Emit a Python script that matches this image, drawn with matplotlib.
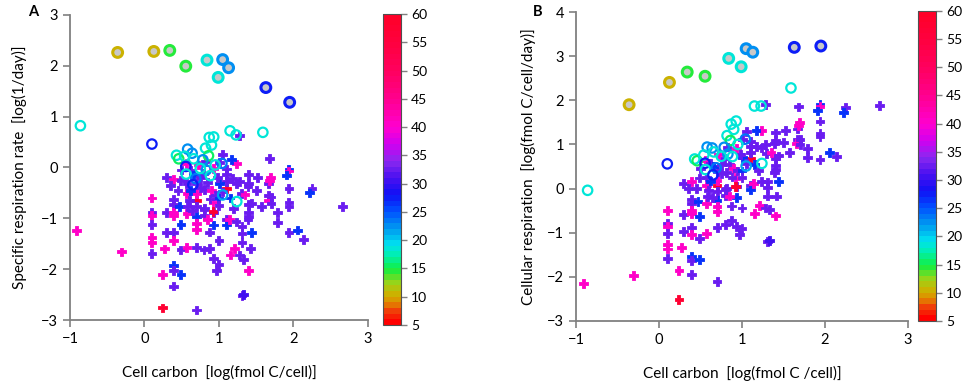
import numpy as np
import matplotlib
matplotlib.use("Agg")
import matplotlib.pyplot as plt
from matplotlib.colors import LinearSegmentedColormap

plt.rcParams['font.family'] = ['Lato', 'DejaVu Sans']

# ---- data (log10 units, temperature in deg C) ----
# cross markers: cell carbon, specific respiration rate, temperature
cross_carbon = [
    -0.91, -0.31, 0.10, 0.10, 0.10, 0.10, 0.10, 0.10, 0.10, 0.24,
    0.24, 0.27, 0.30, 0.30, 0.30, 0.39, 0.39, 0.39, 0.39, 0.39,
    0.39, 0.39, 0.39, 0.39, 0.39, 0.49, 0.49, 0.49, 0.47, 0.49,
    0.57, 0.57, 0.57, 0.57, 0.58, 0.70, 0.70, 0.70, 0.70, 0.70,
    0.70, 0.70, 0.70, 0.70, 0.80, 0.80, 0.80, 0.87, 0.875, 0.92,
    0.93, 0.93, 0.93, 0.97, 1.00, 1.00, 1.10, 1.10, 1.10, 1.10,
    1.10, 1.14, 1.21, 1.15, 1.31, 1.31, 1.31, 1.28, 1.33, 1.40,
    1.31, 1.33, 1.42, 1.44, 1.40, 1.40, 1.40, 1.40, 1.40, 1.23,
    1.30, 1.35, 1.57, 1.67, 1.69, 1.67, 1.66, 1.79, 1.79, 1.94,
    1.94, 1.94, 1.94, 2.05, 2.14, 2.25, 2.22, 2.66, 1.94, 1.94,
    1.91, 1.68, 1.28, 1.24, 1.01, 1.10, 0.93, 0.56, 0.79, 0.81,
    0.81, 1.01, 1.28, 1.39, 1.44, 1.23, 1.39, 0.92, 0.62, 0.66,
    0.75, 0.85, 0.90, 0.95, 1.00, 1.05, 0.75, 0.62, 0.98, 1.18,
    0.88, 1.15, 1.20, 0.50, 1.05, 1.17, 0.72, 0.60, 0.65, 1.00,
    0.85, 1.68, 1.70, 1.70, 0.35, 0.45, 1.50, 1.52, 0.82,
]
cross_spec = [
    -1.24, -1.66, -0.60, -0.89, -0.95, -1.12, -1.37, -1.47, -1.69, -2.10,
    -2.76, -1.60, -0.19, -0.89, -1.28, -0.23, -0.63, -0.72, -0.89, -0.95,
    -1.28, -1.44, -1.92, -2.02, -2.33, -2.10, -1.62, -1.12, -0.76, -0.25,
    -0.51, -0.31, -0.90, -1.58, -0.77, -0.64, -0.51, -0.77, -0.97, -1.10,
    -1.22, -1.58, -2.80, -0.31, -0.82, -0.95, -1.62, -1.59, -1.27, -0.69,
    -0.89, -1.13, -1.79, -2.02, -1.44, -1.90, -1.03, -1.13, -0.41, -0.28,
    -0.14, -1.03, -1.59, -1.72, -1.16, -1.29, -1.48, -1.72, -1.81, -2.02,
    -2.51, -2.50, -1.59, -1.28, -0.97, -0.88, -0.72, -0.31, -0.14, -0.31,
    -0.51, -0.54, -0.76, -0.32, -0.19, -0.55, -0.64, -0.89, -1.08, -0.41,
    -0.69, -0.76, -1.28, -1.23, -1.41, -0.41, -0.50, -0.77, -0.04, -0.07,
    -0.15, 0.17, 0.62, 0.07, 0.10, -0.03, -0.02, 0.08, -0.11, -0.44,
    -0.80, -0.31, -0.28, -0.37, -0.70, -1.07, -1.03, -0.87, -0.05, -0.15,
    -0.20, -0.30, -0.45, -0.55, -0.60, -0.48, -0.40, -0.45, -0.20, -0.22,
    -0.62, -0.60, -0.80, -0.05, 0.25, 0.15, 0.05, -0.65, -0.85, -0.75,
    -1.02, -0.25, -0.58, -0.71, -0.35, -0.45, -0.45, -0.20, 0.12,
]
cross_temp = [
    40, 40, 40, 32, 40, 32, 40, 40, 32, 40,
    57, 40, 32, 32, 32, 40, 32, 32, 40, 40,
    32, 40, 26, 32, 32, 26, 32, 26, 26, 32,
    40, 32, 40, 40, 32, 57, 40, 32, 26, 40,
    40, 32, 32, 32, 32, 32, 32, 32, 32, 40,
    32, 26, 32, 32, 32, 32, 32, 26, 57, 32,
    32, 40, 40, 40, 32, 32, 32, 32, 32, 40,
    32, 30, 32, 26, 32, 32, 32, 32, 32, 32,
    32, 40, 32, 32, 40, 32, 40, 32, 32, 32,
    32, 32, 32, 26, 32, 32, 26, 32, 26, 40,
    26, 32, 32, 40, 32, 32, 40, 40, 32, 32,
    32, 26, 32, 32, 32, 32, 32, 57, 32, 26,
    32, 32, 40, 32, 26, 32, 32, 26, 32, 32,
    32, 26, 32, 32, 32, 26, 40, 32, 32, 32,
    40, 40, 32, 32, 32, 32, 32, 32, 32,
]

# open circles
open_carbon = [
    -0.86, 0.10, 1.15, 1.23, 1.59, 0.87, 0.93, 0.90, 0.82, 0.86,
    0.58, 0.64, 0.43, 0.46, 0.54, 0.66, 0.785, 0.555, 0.83, 1.04,
    0.56, 0.885, 0.69, 1.05, 1.24, 0.65, 0.75, 0.95,
]
open_spec = [
    0.82, 0.46, 0.72, 0.64, 0.69, 0.59, 0.60, 0.44, 0.38, 0.23,
    0.36, 0.28, 0.24, 0.17, 0.22, 0.17, 0.15, 0.02, -0.05, 0.08,
    -0.13, -0.16, -0.22, -0.54, -0.67, -0.34, -0.02, 0.05,
]
open_temp = [
    19, 27, 19, 19, 19, 19, 19, 19, 19, 15,
    22, 22, 19, 15, 19, 19, 22, 27, 22, 23,
    19, 19, 23, 21, 19, 27, 19, 19,
]

# grey-filled circles
grey_carbon = [-0.36, 0.126, 0.34, 0.555, 0.84, 1.05, 1.13, 0.99, 1.63, 1.95]
grey_spec = [2.26, 2.28, 2.30, 1.99, 2.11, 2.12, 1.96, 1.77, 1.57, 1.28]
grey_temp = [10, 10, 14.5, 14.5, 19, 22, 22, 19, 27, 27]

cbar_ticks = list(range(5, 61, 5))

# colour ramp of the colour bar
anchors = [
    (5, '#ff0000'), (7, '#f03c08'), (8.5, '#e08a00'), (10, '#cdb000'),
    (12, '#9cd418'), (14.5, '#12ee40'), (17, '#00f0b0'), (19, '#00e0f0'),
    (22, '#0096f0'), (25, '#0050ff'), (28, '#1010f5'), (31, '#4a10f0'),
    (34, '#8a28f0'), (37, '#d000f0'), (40, '#ff00d0'), (45, '#ff0090'),
    (50, '#ff0060'), (55, '#ff0040'), (60, '#ff0028'),
]
cmap = LinearSegmentedColormap.from_list(
    'temp', [((v - 5) / 55, c) for v, c in anchors], N=55)
vmin, vmax = 5, 60


def style_axes(ax):
    for s in ('top', 'right'):
        ax.spines[s].set_visible(False)
    for s in ('left', 'bottom'):
        ax.spines[s].set_color('#808080')
        ax.spines[s].set_linewidth(1.3)
    ax.tick_params(direction='out', length=5, width=1.2, color='#808080',
                   labelsize=10.5, labelcolor='black')


def draw_panel(ax, cax, ys_cross, ys_open, ys_grey):
    cross_cols = cmap((np.array(cross_temp) - vmin) / (vmax - vmin))
    sc = ax.scatter(cross_carbon, ys_cross, c=cross_temp, cmap=cmap,
                    vmin=vmin, vmax=vmax, marker='P', s=40,
                    edgecolors=cross_cols, linewidths=0.6, zorder=2)
    ax.scatter(open_carbon, ys_open, facecolors='none',
               edgecolors=cmap((np.array(open_temp) - vmin) / (vmax - vmin)),
               marker='o', s=46, linewidths=1.6, zorder=3)
    ax.scatter(grey_carbon, ys_grey, facecolors='#c8c8c8',
               edgecolors=cmap((np.array(grey_temp) - vmin) / (vmax - vmin)),
               marker='o', s=50, linewidths=2.2, zorder=3)
    ax.set_xlim(-1, 3)
    ax.set_xticks([-1, 0, 1, 2, 3])
    style_axes(ax)
    cb = fig.colorbar(sc, cax=cax, ticks=cbar_ticks)
    cb.outline.set_edgecolor('#505050')
    cb.outline.set_linewidth(0.8)
    cax.tick_params(direction='out', length=4, width=1, color='#808080',
                    labelsize=10, labelcolor='black')
    return sc


fig = plt.figure(figsize=(9.64, 3.89), dpi=100)

# panel A
axA = fig.add_axes([0.0726, 0.177, 0.309, 0.785])
caxA = fig.add_axes([0.397, 0.1645, 0.0187, 0.7995])
draw_panel(axA, caxA, cross_spec, open_spec, grey_spec)
axA.set_ylim(-3, 3)
axA.set_yticks([-3, -2, -1, 0, 1, 2, 3])
axA.set_xlabel('Cell carbon  [log(fmol C/cell)]', fontsize=11, labelpad=14)
axA.set_ylabel('Specific respiration rate  [log(1/day)]', fontsize=11,
               labelpad=10)
fig.text(0.029, 0.968, 'A', fontsize=10.5, fontweight='bold', va='center')

# panel B: cellular respiration = cell carbon x specific rate (log sum)
cross_cell = np.array(cross_carbon) + np.array(cross_spec)
open_cell = np.array(open_carbon) + np.array(open_spec)
grey_cell = np.array(grey_carbon) + np.array(grey_spec)

axB = fig.add_axes([0.5975, 0.175, 0.3444, 0.794])
caxB = fig.add_axes([0.952, 0.175, 0.0187, 0.797])
draw_panel(axB, caxB, cross_cell, open_cell, grey_cell)
axB.set_ylim(-3, 4)
axB.set_yticks([-3, -2, -1, 0, 1, 2, 3, 4])
axB.set_xlabel('Cell carbon  [log(fmol C /cell)]', fontsize=11, labelpad=14)
axB.set_ylabel('Cellular respiration  [log(fmol C/cell/day)]', fontsize=11,
               labelpad=8)
fig.text(0.553, 0.968, 'B', fontsize=10.5, fontweight='bold', va='center')

fig.savefig('out.png', dpi=100)
